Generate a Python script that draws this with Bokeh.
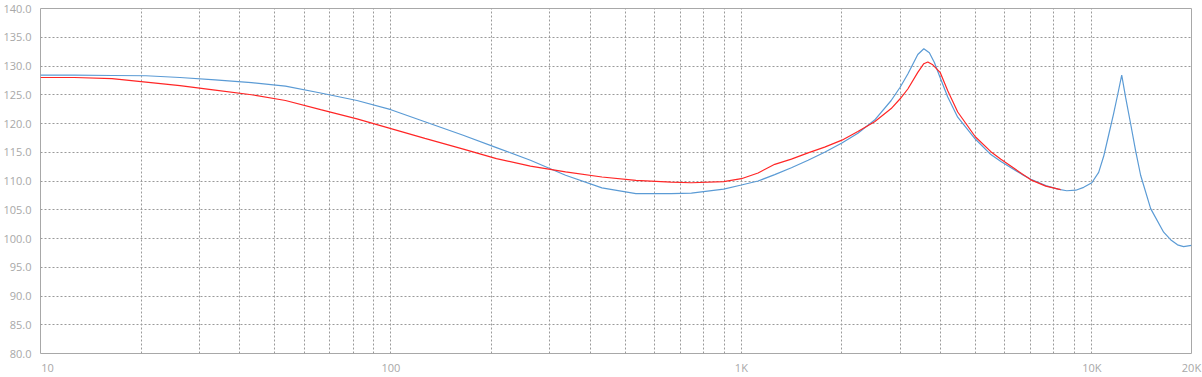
from bokeh.plotting import figure
from bokeh.models import FixedTicker, Range1d, NumeralTickFormatter
from bokeh.embed import file_html
from bokeh.resources import INLINE

# ---- data (frequency in Hz, level in dB) ----
blue_freq = [10, 12.5, 16, 20, 25, 31.5, 40, 50, 63, 80, 100, 125, 160, 200, 250, 315,
             400, 500, 630, 720, 890, 1000, 1116, 1245, 1389, 1550, 1728, 1936, 2150,
             2400, 2676, 2838, 2985, 3187, 3316, 3439, 3554, 3690, 3880, 4143, 4650,
             5151, 5503, 6300, 6700, 7390, 8000, 8480, 9000, 9480, 10000, 10460, 10810,
             11170, 11540, 11850, 12170, 12490, 12900, 13340, 13780, 14720, 16030,
             16780, 17560, 18270, 19250]
blue_db = [128.4, 128.4, 128.35, 128.3, 128.0, 127.6, 127.1, 126.5, 125.3, 124.0, 122.4,
           120.3, 118.0, 115.8, 113.6, 111.0, 108.8, 107.8, 107.8, 107.9, 108.6, 109.3,
           110.0, 111.1, 112.3, 113.6, 115.0, 116.6, 118.3, 120.6, 124.0, 126.3, 128.6,
           132.0, 133.0, 132.3, 130.6, 128.0, 124.6, 121.1, 117.3, 114.6, 113.4, 111.2,
           110.3, 109.2, 108.6, 108.3, 108.4, 108.9, 109.7, 111.5, 114.3, 118.0, 121.7,
           125.0, 128.4, 124.5, 120.0, 115.2, 111.0, 105.2, 101.1, 99.8, 98.9, 98.6, 98.8]

red_freq = [10, 12.5, 16, 20, 25, 31.5, 40, 50, 63, 80, 100, 125, 160, 200, 250, 315,
            400, 500, 630, 720, 890, 1000, 1116, 1245, 1389, 1550, 1728, 1936, 2150,
            2400, 2676, 2838, 2985, 3187, 3316, 3404, 3517, 3690, 3880, 4143, 4650,
            5151, 5503, 6300, 6700, 7390, 8150]
red_db = [128.0, 128.0, 127.8, 127.2, 126.6, 125.8, 125.0, 124.0, 122.4, 120.8, 119.1,
          117.4, 115.6, 113.9, 112.6, 111.6, 110.7, 110.1, 109.8, 109.7, 109.9, 110.4,
          111.4, 112.9, 113.8, 114.9, 115.9, 117.1, 118.6, 120.3, 122.6, 124.3, 126.0,
          128.9, 130.4, 130.7, 130.2, 128.9, 125.7, 122.0, 117.7, 115.1, 113.8, 111.3,
          110.2, 109.1, 108.5]

x_tick_values = [10, 100, 1000, 10000, 19250]
x_tick_labels = ["10", "100", "1K", "10K", "20K"]
y_tick_values = [80, 85, 90, 95, 100, 105, 110, 115, 120, 125, 130, 135, 140]

# vertical grid positions as drawn in the reference (per decade)
grid_mult = [1.936, 2.838, 3.707, 4.656, 5.649, 6.683, 7.798, 8.933]
x_grid_values = []
for dec in (10, 100, 1000):
    x_grid_values += [dec * m for m in grid_mult]
x_grid_values += [100, 1000, 10000]

FONT = "Open Sans"
LABEL_COLOR = "#a8a8a8"
GRID_COLOR = "#9a9a9a"
FRAME_COLOR = "#a8a8a8"

X_MIN, X_MAX = 10, 19250
p = figure(width=1202, height=377, x_axis_type="log",
           x_range=Range1d(X_MIN, X_MAX), y_range=Range1d(80, 140),
           output_backend="svg", toolbar_location=None,
           min_border_left=38, min_border_right=11, min_border_top=8,
           min_border_bottom=20)

p.line(blue_freq, blue_db, line_color="#5B9BD5", line_width=1.2)
p.line(red_freq, red_db, line_color="#FF2626", line_width=1.2)

# x axis: first label is drawn left-aligned at the axis start (shift its
# anchor ~7px to the right so the text starts at the frame edge)
first_label_pos = int(round(X_MIN * 10 ** (7 / 351.0) * 1000)) / 1000
label_pos = [first_label_pos] + x_tick_values[1:]
p.xaxis.ticker = FixedTicker(ticks=label_pos, minor_ticks=[])
p.xaxis.major_label_overrides = {v: t for v, t in zip(label_pos, x_tick_labels)}
p.yaxis.ticker = FixedTicker(ticks=y_tick_values, minor_ticks=[])
p.yaxis.formatter = NumeralTickFormatter(format="0.0")

for ax in (p.xaxis[0], p.yaxis[0]):
    ax.axis_line_color = None
    ax.major_tick_line_color = None
    ax.minor_tick_line_color = None
    ax.major_tick_out = 0
    ax.major_tick_in = 0
    ax.major_label_text_font = FONT
    ax.major_label_text_font_size = "11px"
    ax.major_label_text_color = LABEL_COLOR
p.xaxis.major_label_standoff = 6
p.yaxis.major_label_standoff = 9

# grids
p.xgrid.ticker = FixedTicker(ticks=x_grid_values)
p.ygrid.ticker = FixedTicker(ticks=y_tick_values)
for g in (p.xgrid[0], p.ygrid[0]):
    g.grid_line_color = GRID_COLOR
    g.grid_line_dash = "2 2"
    g.grid_line_width = 1

p.outline_line_color = FRAME_COLOR
p.outline_line_width = 1
p.background_fill_color = "white"
p.border_fill_color = "white"

open("out.html", "w").write(file_html(p, INLINE))
